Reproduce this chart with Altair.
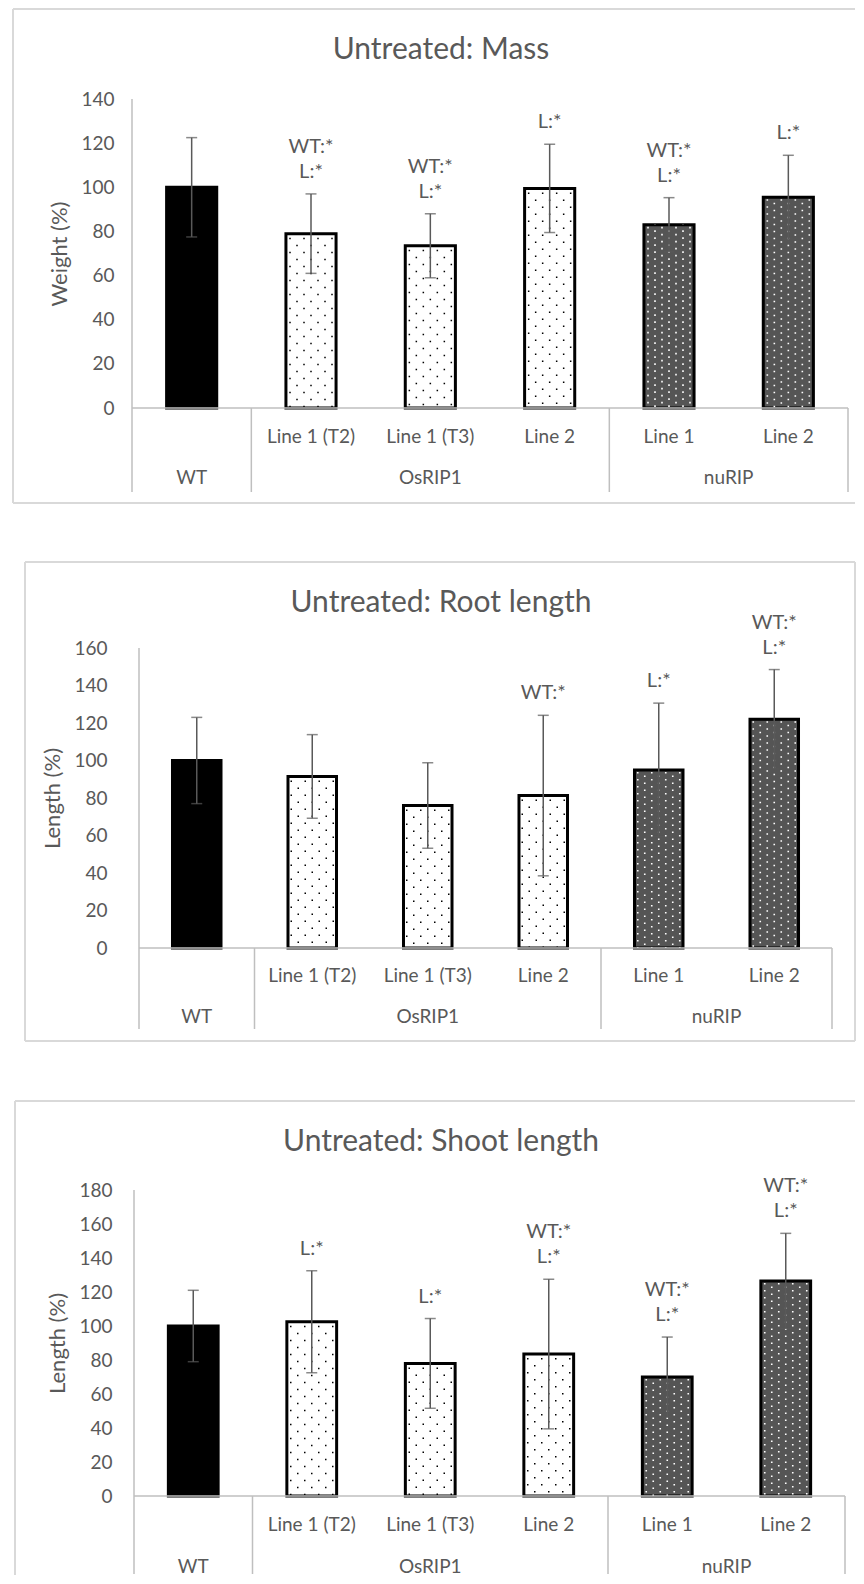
import altair as alt
import pandas as pd

# ---------------- data ----------------
groups = ["WT", "OsRIP1", "OsRIP1", "OsRIP1", "nuRIP", "nuRIP"]
lines = ["", "Line 1 (T2)", "Line 1 (T3)", "Line 2", "Line 1", "Line 2"]

mass_mean = [100, 79, 73.5, 99.5, 83, 95.5]
mass_err = [22.5, 18, 14.5, 20, 12.3, 19]
mass_wt = [0, 1, 1, 0, 1, 0]
mass_l = [0, 1, 1, 1, 1, 1]

root_mean = [100, 91.5, 76, 81.3, 95, 122]
root_err = [23, 22.3, 22.8, 42.8, 35.6, 26.5]
root_wt = [0, 0, 0, 1, 0, 1]
root_l = [0, 0, 0, 0, 1, 1]

shoot_mean = [100, 102.5, 78, 83.5, 70, 126.5]
shoot_err = [21, 30, 26.4, 44, 23.5, 28]
shoot_wt = [0, 0, 0, 1, 1, 1]
shoot_l = [0, 1, 1, 1, 1, 1]

titles = ["Untreated: Mass", "Untreated: Root length", "Untreated: Shoot length"]
ytitles = ["Weight (%)", "Length (%)", "Length (%)"]
ymaxes = [140, 160, 180]

# ---------------- style / layout ----------------
FONT = "Lato"
GREY = "#595959"
LINE = "#bfbfbf"
BOX = "#d9d9d9"
HALF = 0.21
GROUP_ORDER = ["WT", "OsRIP1", "nuRIP"]
FILLS = ["#000000", "#ffffff", "#555555"]
COMMON_LEFT = 132
RIGHT_MAX = 855

geos = [
    dict(left=132, top=99, w=716, h=309, box_l=13, box_t=9, box_r=RIGHT_MAX, box_b=503,
         right_edge=False, bottom_edge=True, tx=441, ty=50, sub=29, grp=70, sep=84,
         seg_t=8, seg_b=532),
    dict(left=139, top=648, w=693, h=300, box_l=25, box_t=562, box_r=RIGHT_MAX, box_b=1041,
         right_edge=True, bottom_edge=True, tx=441, ty=603, sub=28, grp=69, sep=81,
         seg_t=532, seg_b=1071),
    dict(left=134, top=1190, w=711, h=306, box_l=15, box_t=1101, box_r=RIGHT_MAX, box_b=1575,
         right_edge=False, bottom_edge=False, tx=441, ty=1142, sub=29, grp=71, sep=78,
         seg_t=1071, seg_b=1575),
]


def vrule(data, x, y1, y2, color, width=1.5, opacity=1.0):
    return alt.Chart(data).mark_rule(color=color, strokeWidth=width, strokeOpacity=opacity).encode(
        x=alt.value(x), y=alt.value(y1), y2=alt.value(y2))


def hrule(data, x1, x2, y, color, width=1.5):
    return alt.Chart(data).mark_rule(color=color, strokeWidth=width).encode(
        x=alt.value(x1), x2=alt.value(x2), y=alt.value(y))


def panel(title, ytitle, ymax, mean, err, wt, l, g):
    W, H, T = g["w"], g["h"], g["top"]
    L = COMMON_LEFT
    lead = g["left"] - COMMON_LEFT
    n = len(groups)
    step = W / n
    idx = list(range(n))
    upper = ["WT:*" if (a and b) else "" for a, b in zip(wt, l)]
    lower = ["L:*" if b else ("WT:*" if a else "") for a, b in zip(wt, l)]
    df = pd.DataFrame({
        "idx": idx, "group": groups, "line": lines, "mean": mean,
        "lo": [m - e for m, e in zip(mean, err)],
        "hi": [m + e for m, e in zip(mean, err)],
        "x1": [i - HALF for i in idx], "x2": [i + HALF for i in idx],
        "upper": upper, "lower": lower,
    })
    xs = alt.Scale(domain=[-0.5 - lead / step, n - 0.5], nice=False, zero=False)
    ys = alt.Scale(domain=[0, ymax], nice=False)
    X = alt.X("idx:Q", scale=xs, axis=None)

    yaxis = alt.Axis(title=ytitle, values=list(range(0, ymax + 1, 20)),
                     grid=False, ticks=False, tickSize=0, domain=False, labelOverlap=False,
                     labelFlush=False, labelBound=False,
                     labelColor=GREY, labelFont=FONT, labelFontSize=19, labelPadding=18 + lead,
                     titleColor=GREY, titleFont=FONT, titleFontSize=22,
                     titleFontWeight="normal", titlePadding=9)

    def Yq(field):
        return alt.Y(field, scale=ys, axis=yaxis)

    base = alt.Chart(df)

    bars = base.mark_bar(stroke="black", strokeWidth=3).encode(
        x=alt.X("x1:Q", scale=xs, axis=None), x2="x2:Q",
        y=Yq("mean:Q"), y2=alt.Y2Datum(0),
        fill=alt.Fill("group:N", scale=alt.Scale(domain=GROUP_ORDER, range=FILLS), legend=None),
    )

    tex = []
    offs = [-21, -14, -7, 0, 7, 14, 21]
    for k, off in enumerate(offs):
        tex.append(base.transform_filter("datum.group == 'OsRIP1'").mark_rule(
            color="black", strokeWidth=1.5, strokeDash=[1.5, 12.5],
            strokeDashOffset=10 if k % 2 == 0 else 3, xOffset=off).encode(
            x=X, y=Yq("mean:Q"), y2=alt.Y2Datum(0)))
        tex.append(base.transform_filter("datum.group == 'nuRIP'").mark_rule(
            color="white", strokeWidth=1.6, strokeDash=[1.6, 5.4],
            strokeDashOffset=5 if k % 2 == 0 else 1.5, xOffset=off).encode(
            x=X, y=Yq("mean:Q"), y2=alt.Y2Datum(0)))

    ebar = base.mark_rule(color=GREY, strokeWidth=1.5).encode(
        x=X, y=Yq("lo:Q"), y2="hi:Q")
    cap_hi = base.mark_tick(color=GREY, orient="horizontal", size=11, thickness=1.5).encode(
        x=X, y=Yq("hi:Q"))
    cap_lo = base.mark_tick(color=GREY, orient="horizontal", size=11, thickness=1.5).encode(
        x=X, y=Yq("lo:Q"))

    ann_lo = base.transform_filter("datum.lower != ''").mark_text(
        dy=-22, fontSize=20, font=FONT, color=GREY, baseline="middle").encode(
        x=X, y=Yq("hi:Q"), text="lower:N")
    ann_hi = base.transform_filter("datum.upper != ''").mark_text(
        dy=-47, fontSize=20, font=FONT, color=GREY, baseline="middle").encode(
        x=X, y=Yq("hi:Q"), text="upper:N")

    axdf = pd.DataFrame({"a": [-0.5], "b": [n - 0.5]})
    baseline = alt.Chart(axdf).mark_rule(color=LINE, strokeWidth=1.5).encode(
        x=alt.X("a:Q", scale=xs, axis=None), x2="b:Q", y=alt.YDatum(0, scale=ys, axis=yaxis))
    yline = alt.Chart(axdf).mark_rule(color=LINE, strokeWidth=1.5).encode(
        x=alt.X("a:Q", scale=xs, axis=None), y=alt.YDatum(0, scale=ys, axis=yaxis),
        y2=alt.Y2Datum(ymax))

    seps = [-0.5] + [i + 0.5 for i in range(n - 1) if groups[i] != groups[i + 1]] + [n - 0.5]
    sep = alt.Chart(pd.DataFrame({"s": seps})).mark_rule(color=LINE, strokeWidth=1.5).encode(
        x=alt.X("s:Q", scale=xs, axis=None), y=alt.value(H), y2=alt.value(H + g["sep"]))

    sub = base.mark_text(font=FONT, fontSize=19, color=GREY, baseline="middle").encode(
        x=X, y=alt.value(H + g["sub"]), text="line:N")

    gdf = df.groupby("group", sort=False)["idx"].mean().reset_index()
    grp = alt.Chart(gdf).mark_text(font=FONT, fontSize=19, color=GREY, baseline="middle").encode(
        x=alt.X("idx:Q", scale=xs, axis=None), y=alt.value(H + g["grp"]), text="group:N")

    one = pd.DataFrame({"t": [title]})
    ttl = alt.Chart(one).mark_text(font=FONT, fontSize=30, color=GREY, baseline="middle").encode(
        x=alt.value(g["tx"] - L), y=alt.value(g["ty"] - T), text="t:N")

    box = [
        vrule(one, g["box_l"] - L, g["box_t"] - T, g["box_b"] - T, BOX, 2),
        hrule(one, g["box_l"] - L, g["box_r"] - L, g["box_t"] - T, BOX, 2),
    ]
    if g["bottom_edge"]:
        box.append(hrule(one, g["box_l"] - L, g["box_r"] - L, g["box_b"] - T, BOX, 2))
    if g["right_edge"]:
        box.append(vrule(one, g["box_r"] - L, g["box_t"] - T, g["box_b"] - T, BOX, 2))
    anchor = vrule(one, 8 - L, g["seg_t"] - T, g["seg_b"] - T, "white", 0.1, 0.0)

    return alt.layer(bars, anchor, *box, ttl, *tex, ebar, cap_hi, cap_lo, ann_lo, ann_hi,
                     baseline, yline, sep, sub, grp).properties(width=W + lead, height=H)


p1 = panel(titles[0], ytitles[0], ymaxes[0], mass_mean, mass_err, mass_wt, mass_l, geos[0])
p2 = panel(titles[1], ytitles[1], ymaxes[1], root_mean, root_err, root_wt, root_l, geos[1])
p3 = panel(titles[2], ytitles[2], ymaxes[2], shoot_mean, shoot_err, shoot_wt, shoot_l, geos[2])

chart = alt.vconcat(p1, p2, p3, spacing=0).properties(padding=0).configure_view(stroke=None)

chart.save("out.html", embed_options={"renderer": "svg", "actions": False})
